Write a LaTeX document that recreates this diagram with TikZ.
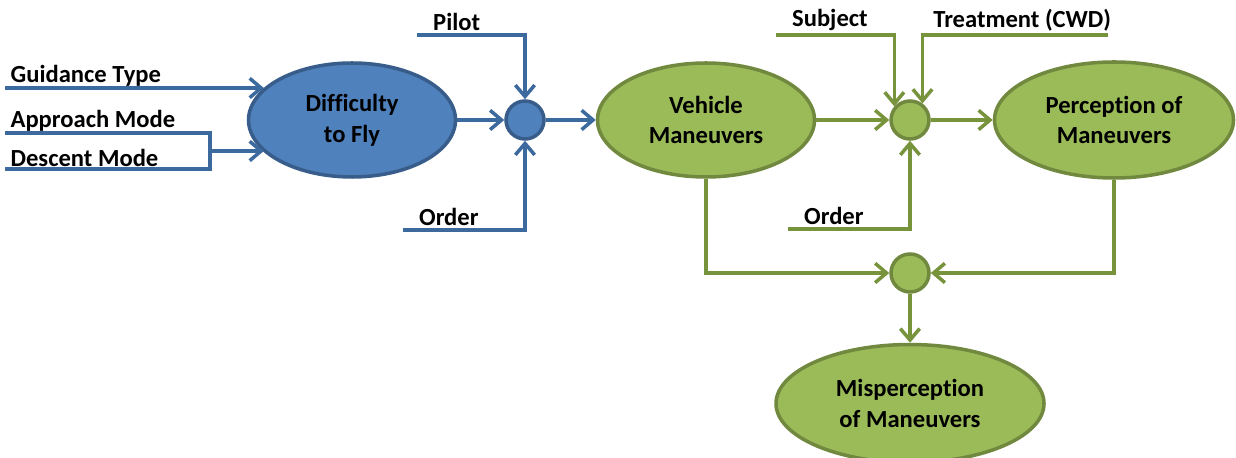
\documentclass[tikz,border=0pt]{standalone}
\usepackage{fontspec}
\setmainfont{Carlito}[Ligatures=NoCommon]
\usetikzlibrary{arrows.meta, positioning, shapes.geometric}
\definecolor{bluefill}{HTML}{4F81BD}
\definecolor{blueedge}{HTML}{385D8A}
\definecolor{blueline}{HTML}{3C6A9E}
\definecolor{greenfill}{HTML}{9BBB59}
\definecolor{greenedge}{HTML}{71893F}
\definecolor{greenline}{HTML}{77933C}

\begin{document}
\begin{tikzpicture}[font=\fontsize{14}{17.5}\selectfont\bfseries,
                    every node/.style={inner sep=0pt},
                    blob/.style={ellipse, line width=2pt, align=center},
                    bluenode/.style={blob, fill=bluefill, draw=blueedge},
                    greennode/.style={blob, fill=greenfill, draw=greenedge},
                    junction/.style={circle, minimum size=0.76cm, line width=2pt},
                    bluewire/.style={draw=blueline, line width=2pt},
                    greenwire/.style={draw=greenline, line width=2pt},
                    tip/.style={-{Straight Barb[length=6.5pt,width=11pt]}},
                    tag/.style={inner sep=1pt}]
                    \useasboundingbox (0,0) rectangle (24.72,-9.16);
                    % main chain
                    \node[bluenode, minimum width=4.14cm, minimum height=2.28cm] (fly) at (7.04,-2.4) {Difficulty\\to Fly};
                    \node[junction, fill=bluefill, draw=blueedge] (sumA) at (10.5,-2.4) {};
                    \node[greennode, minimum width=4.34cm, minimum height=2.28cm] (veh) at (14.12,-2.4) {Vehicle\\Maneuvers};
                    \node[junction, fill=greenfill, draw=greenedge] (sumB) at (18.2,-2.4) {};
                    \node[greennode, minimum width=4.78cm, minimum height=2.32cm] (perc) at (22.28,-2.4) {Perception of\\Maneuvers};
                    \node[junction, fill=greenfill, draw=greenedge] (sumC) at (18.2,-5.46) {};
                    \node[greennode, minimum width=5.36cm, minimum height=2.36cm, below=0.98cm of sumC] (misp) {Misperception\\of Maneuvers};
                    % free ends of the inputs
                    \coordinate (guide) at (0.1,-1.76);
                    \coordinate (appr) at (0.1,-2.66);
                    \coordinate (desc) at (0.1,-3.38);
                    \coordinate (merge) at (4.2,-3.02);
                    \coordinate (pilot) at (8.34,-0.7);
                    \coordinate (orderA) at (8.06,-4.6);
                    \coordinate (subj) at (15.52,-0.7);
                    \coordinate (treat) at (22.16,-0.7);
                    \coordinate (orderB) at (15.76,-4.58);
                    \node[tag, above right=0pt and 2pt of guide] (guidetxt) {Guidance Type};
                    \node[tag, above right=0pt and 2pt of appr] (apprtxt) {Approach Mode};
                    \node[tag, above right=0pt and 2pt of desc] (desctxt) {Descent Mode};
                    \node[tag, above right=1pt and 8pt of pilot] (pilottxt) {Pilot};
                    \node[tag, above right=1pt and 8pt of orderA] (orderAtxt) {Order};
                    \node[tag, above right=1pt and 8pt of subj] (subjtxt) {Subject};
                    \node[tag, above left=1pt and -3pt of treat] (treattxt) {Treatment (CWD)};
                    \node[tag, above right=1pt and 8pt of orderB] (orderBtxt) {Order};
                    % blue part
                    \draw[bluewire, tip] (guide) -- (guide -| fly.160);
                    \draw[bluewire] (appr) -| (merge) |- (desc);
                    \draw[bluewire, tip] (merge) -- (merge -| fly.200);
                    \draw[bluewire, tip] (fly) -- (sumA);
                    \draw[bluewire, tip] (pilot) -| (sumA);
                    \draw[bluewire, tip] (orderA) -| (sumA);
                    \draw[bluewire, tip] (sumA) -- (veh);
                    % green part
                    \draw[greenwire, tip] (veh) -- (sumB);
                    \draw[greenwire, tip] (subj) -| (sumB.139);
                    \draw[greenwire, tip] (treat) -| (sumB.53);
                    \draw[greenwire, tip] (orderB) -| (sumB);
                    \draw[greenwire, tip] (sumB) -- (perc);
                    \draw[greenwire, tip] (veh.south) |- (sumC);
                    \draw[greenwire, tip] (perc.south) |- (sumC);
                    \draw[greenwire, tip] (sumC) -- (misp);
                \end{tikzpicture}
\end{document}
